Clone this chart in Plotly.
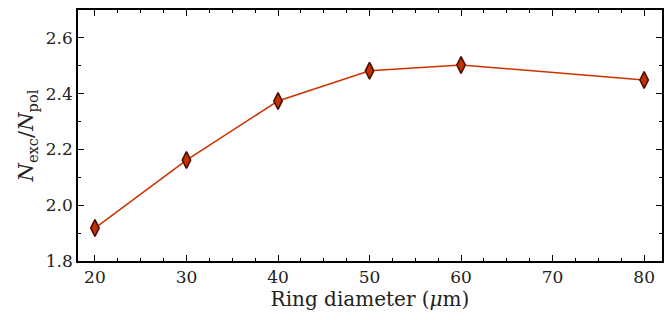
import plotly.graph_objects as go

diameters = [20, 30, 40, 50, 60, 80]
ratio = [1.918, 2.162, 2.374, 2.482, 2.503, 2.449]
x_ticks = [20, 30, 40, 50, 60, 70, 80]
y_ticks = [1.8, 2.0, 2.2, 2.4, 2.6]

FONT = "'DejaVu Serif', 'Liberation Serif', serif"

fig = go.Figure()
fig.add_trace(go.Scatter(
    x=diameters, y=ratio, mode="lines+markers",
    line=dict(color="#cc3300", width=1.6),
    marker=dict(symbol="diamond-tall", size=12, color="#c43200",
                line=dict(color="#4a0d00", width=1.6)),
    showlegend=False,
))

axis_common = dict(
    showline=True, linecolor="black", linewidth=1.5, mirror="ticks",
    ticks="inside", ticklen=6, tickwidth=1.3, tickcolor="black",
    showgrid=False, zeroline=False,
    tickfont=dict(family=FONT, size=17, color="#222"),
)

fig.update_xaxes(
    range=[18.15, 81.95], tickvals=x_ticks, ticktext=[str(v) for v in x_ticks],
    minor=dict(dtick=2.5, tick0=0, ticks="inside", ticklen=3, tickwidth=1.2, tickcolor="black"),
    title=dict(text="Ring diameter (<i>μ</i>m)", font=dict(family=FONT, size=20, color="#222"), standoff=5),
    **axis_common,
)
fig.update_yaxes(
    range=[1.8, 2.7], tickvals=y_ticks, ticktext=[f"{v:.1f}" for v in y_ticks],
    minor=dict(dtick=0.1, tick0=0, ticks="inside", ticklen=3, tickwidth=1.2, tickcolor="black"),
    title=dict(text="<i>N</i><sub>exc</sub>/<i>N</i><sub>pol</sub>", font=dict(family=FONT, size=21, color="#222"), standoff=6),
    **axis_common,
)

fig.update_layout(
    width=672, height=320,
    margin=dict(l=78, r=8, t=10, b=59),
    plot_bgcolor="white", paper_bgcolor="white",
)

fig.write_html("out.html")
